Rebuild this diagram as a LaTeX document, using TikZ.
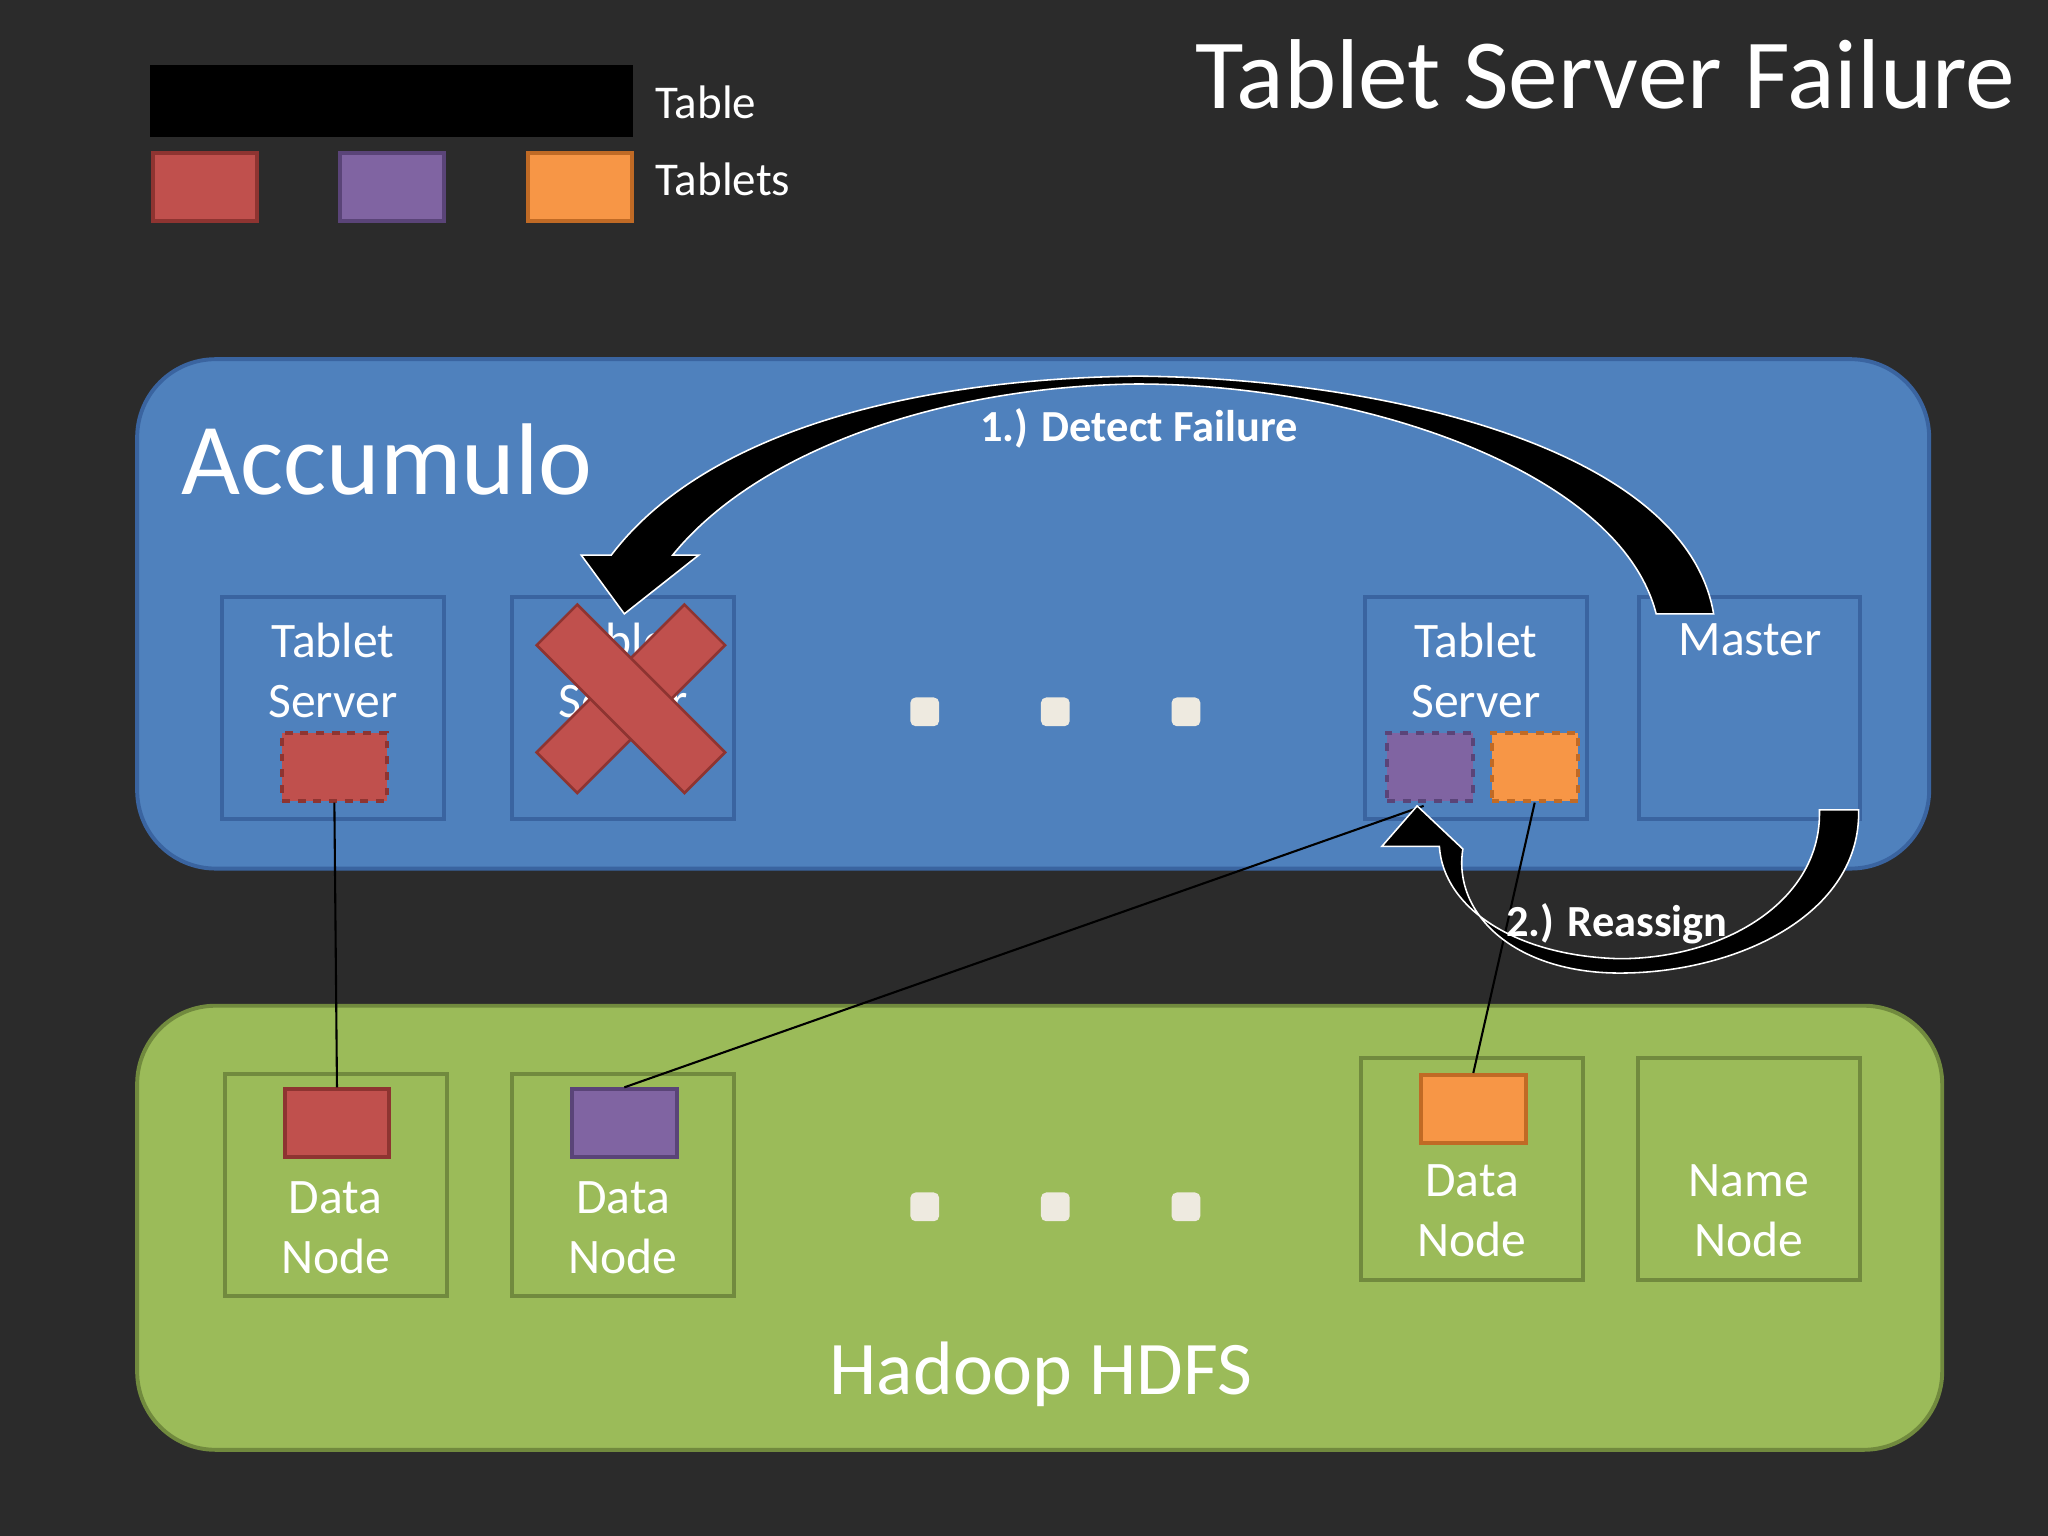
\documentclass[tikz,border=0pt]{standalone}
\usepackage{fontspec}
\setmainfont{Carlito}
\begin{document}
\begin{tikzpicture}[x=0.5pt,y=-0.5pt,
  box/.style={draw=#1,line width=1.5pt,fill=none},
  lbl/.style={text=white,align=center,font=\fontsize{19pt}{23pt}\selectfont},
  dot/.style={fill=dotc,rounded corners=2pt,minimum size=11pt,inner sep=0pt},
  small/.style={line width=1.5pt,minimum width=40pt,minimum height=26pt,inner sep=0pt},
  arr/.style={fill=black,draw=white,line width=0.6pt}]
\definecolor{bg}{HTML}{2B2B2B}
\definecolor{acc}{HTML}{4F81BD}\definecolor{accb}{HTML}{3A64A0}
\definecolor{hd}{HTML}{9BBB59}\definecolor{hdb}{HTML}{718A3E}
\definecolor{tr}{HTML}{C0504D}\definecolor{trb}{HTML}{8E3431}
\definecolor{tp}{HTML}{8064A2}\definecolor{tpb}{HTML}{5A4478}
\definecolor{to}{HTML}{F79646}\definecolor{tob}{HTML}{C06A25}
\definecolor{dotc}{HTML}{EEEAE0}
\fill[bg] (0,0) rectangle (1568,1176);
\useasboundingbox (0,0) rectangle (1568,1176);
% legend
\fill[black] (115,50) rectangle (485,105);
\node[text=white,anchor=west,font=\fontsize{18pt}{22pt}\selectfont] (tl) at (495,78) {Table};
\node[small,fill=tr,draw=trb] (l1) at (157,143) {};
\node[small,fill=tp,draw=tpb] (l2) at (300,143) {};
\node[small,fill=to,draw=tob] (l3) at (444,143) {};
\node[text=white,anchor=west,font=\fontsize{18pt}{22pt}\selectfont] (tls) at (495,137) {Tablets};
\node[text=white,anchor=east,font=\fontsize{38pt}{42pt}\selectfont] (title) at (1550,57) {Tablet Server Failure};
% Accumulo
\node[fill=acc,draw=accb,line width=1.5pt,rounded corners=30pt,minimum width=686pt,minimum height=195pt] (accbox) at (791,470) {};
\node[text=white,anchor=west,font=\fontsize{39pt}{43pt}\selectfont] (acct) at (132,352) {Accumulo};
\draw[box=accb] (170,457) rectangle (340,627);
\draw[box=accb] (392,457) rectangle (562,627);
\draw[box=accb] (1045,457) rectangle (1215,627);
\draw[box=accb] (1255,457) rectangle (1424,627);
\node[lbl] (ts1) at (255,513) {Tablet\\Server};
\node[lbl] (ts2) at (477,513) {Tablet\\Server};
\node[lbl] (ts3) at (1130,513) {Tablet\\Server};
\node[lbl] (ms) at (1340,490) {Master};
\node[small,fill=tr,draw=trb,dashed] (r1) at (256,587) {};
\node[small,fill=tp,draw=tpb,dashed,minimum width=33pt] (p1) at (1095,587) {};
\node[small,fill=to,draw=tob,dashed,minimum width=33pt] (o1) at (1175,587) {};
\node[dot] (d1) at (708,545) {};\node[dot] (d2) at (808,545) {};\node[dot] (d3) at (908,545) {};
% red X
\begin{scope}[shift={(483,535)}]
\fill[tr,draw=trb,line width=1pt,rotate=45] (-80,-22) rectangle (80,22);
\fill[tr,draw=trb,line width=1pt,rotate=-45] (-80,-22) rectangle (80,22);
\end{scope}
% HDFS
\node[fill=hd,draw=hdb,line width=1.5pt,rounded corners=30pt,minimum width=691pt,minimum height=170pt] (hdbox) at (796,940) {};
\draw[box=hdb] (172,822) rectangle (342,992);
\draw[box=hdb] (392,822) rectangle (562,992);
\draw[box=hdb] (1042,810) rectangle (1212,980);
\draw[box=hdb] (1254,810) rectangle (1424,980);
\node[small,fill=tr,draw=trb] (r2) at (258,860) {};
\node[small,fill=tp,draw=tpb] (p2) at (478,860) {};
\node[small,fill=to,draw=tob] (o2) at (1128,849) {};
\node[lbl] (dn1) at (257,940) {Data\\Node};
\node[lbl] (dn2) at (477,940) {Data\\Node};
\node[lbl] (dn3) at (1127,927) {Data\\Node};
\node[lbl] (nn) at (1339,927) {Name\\Node};
\node[dot] (e1) at (708,924) {};\node[dot] (e2) at (808,924) {};\node[dot] (e3) at (908,924) {};
\node[text=white,font=\fontsize{29pt}{33pt}\selectfont] (hdt) at (797,1052) {Hadoop HDFS};
% links
\draw[black,line width=0.8pt] (r1.south) -- (r2.north);
\draw[black,line width=0.8pt] (p2.north) -- (1090,617);
\draw[black,line width=0.8pt] (o1.south) -- (o2.north);
% arrows
\draw[arr] (1312,470) .. controls (1290,340) and (1050,289) .. (870,288) .. controls (700,290) and (540,330) .. (468,425) -- (445,425) -- (478,470) -- (535,425) -- (515,425) .. controls (580,345) and (720,296) .. (870,294) .. controls (1040,294) and (1240,360) .. (1268,470) -- cycle;
\node[text=white,font=\bfseries\fontsize{17pt}{20pt}\selectfont] (dl) at (872,328) {1.) Detect Failure};
\draw[arr] (1423,620) .. controls (1425,700) and (1330,745) .. (1240,745) .. controls (1160,745) and (1112,700) .. (1120,650) -- (1085,617) -- (1058,648) -- (1102,648) .. controls (1105,695) and (1160,732) .. (1240,734) .. controls (1320,734) and (1395,690) .. (1393,620) -- cycle;
\node[text=white,font=\bfseries\fontsize{17pt}{20pt}\selectfont] (rl) at (1238,707) {2.) Reassign};
\end{tikzpicture}
\end{document}
